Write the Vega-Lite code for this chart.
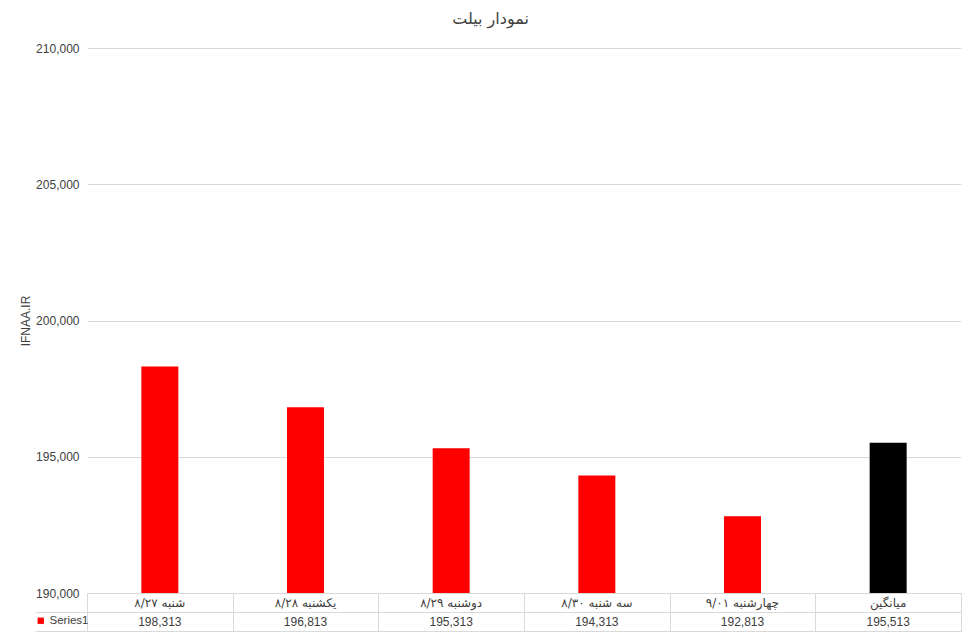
{
  "$schema": "https://vega.github.io/schema/vega-lite/v6.json",
  "padding": {"left": 19, "top": 11, "right": 15, "bottom": 7},
  "bounds": "flush",
  "background": "white",
  "config": {
    "font": "Liberation Sans, DejaVu Sans",
    "view": {"stroke": null},
    "axis": {"labelFont": "Liberation Sans, DejaVu Sans", "titleFont": "Liberation Sans, DejaVu Sans"}
  },
  "title": {
    "text": "نمودار بیلت",
    "fontSize": 16,
    "fontWeight": "normal",
    "color": "#404040",
    "font": "DejaVu Sans",
    "anchor": "middle",
    "frame": "bounds",
    "offset": 15
  },
  "data": {
    "values": [
      {"day": "شنبه ۸/۲۷", "value": 198313, "series": "Series1"},
      {"day": "یکشنبه ۸/۲۸", "value": 196813, "series": "Series1"},
      {"day": "دوشنبه ۸/۲۹", "value": 195313, "series": "Series1"},
      {"day": "سه شنبه ۸/۳۰", "value": 194313, "series": "Series1"},
      {"day": "چهارشنبه ۹/۰۱", "value": 192813, "series": "Series1"},
      {"day": "میانگین", "value": 195513, "series": "Series1"}
    ]
  },
  "spacing": 0,
  "vconcat": [
    {
      "width": 874,
      "height": 545,
      "mark": {"type": "bar"},
      "encoding": {
        "x": {
          "field": "day", "type": "nominal", "sort": null,
          "scale": {"paddingInner": 0.746, "paddingOuter": 0.373},
          "axis": null
        },
        "y": {
          "field": "value", "type": "quantitative",
          "scale": {"domain": [190000, 210000], "zero": false, "nice": false},
          "axis": {
            "title": "IFNAA.IR",
            "titleFontSize": 12, "titleFontWeight": "normal", "titleColor": "#404040",
            "titlePadding": 3,
            "values": [190000, 195000, 200000, 205000, 210000],
            "format": ",d",
            "labelFontSize": 12, "labelColor": "#404040", "labelPadding": 8,
            "domain": false, "ticks": false,
            "grid": true, "gridColor": "#d9d9d9"
          }
        },
        "y2": {"datum": 190000},
        "color": {
          "condition": {"test": "datum.day === 'میانگین'", "value": "#000000"},
          "field": "series", "type": "nominal",
          "scale": {"domain": ["Series1"], "range": ["#ff0000"]},
          "legend": {
            "title": null, "orient": "none", "legendX": -52, "legendY": 567,
            "symbolType": "square", "symbolSize": 40, "symbolStrokeWidth": 0,
            "labelFontSize": 11.5, "labelOffset": 3, "labelColor": "#404040", "padding": 0
          }
        }
      }
    },
    {
      "width": 874,
      "height": 38,
      "view": {"stroke": "#d9d9d9"},
      "encoding": {
        "x": {
          "field": "day", "type": "nominal", "sort": null,
          "scale": {"paddingInner": 0, "paddingOuter": 0},
          "axis": {"title": null, "labels": false, "ticks": false, "domain": false, "grid": true, "gridColor": "#d9d9d9", "tickBand": "extent", "orient": "bottom"}
        }
      },
      "layer": [
        {
          "mark": {"type": "text", "fontSize": 12, "color": "#404040", "font": "DejaVu Sans"},
          "encoding": {
            "y": {"datum": "cat", "type": "nominal", "scale": {"domain": ["cat", "val"], "paddingInner": 0, "paddingOuter": 0},
              "axis": {"title": null, "values": ["val"], "labels": true, "labelExpr": "''", "domain": false, "ticks": true, "grid": true, "gridColor": "#d9d9d9", "tickBand": "extent", "tickSize": 52,
                "tickColor": "#d9d9d9", "tickWidth": 1}},
            "text": {"field": "day"}
          }
        },
        {
          "mark": {"type": "text", "fontSize": 12, "color": "#404040"},
          "encoding": {
            "y": {"datum": "val", "type": "nominal"},
            "text": {"field": "value", "type": "quantitative", "format": ",d"}
          }
        }
      ]
    }
  ]
}
